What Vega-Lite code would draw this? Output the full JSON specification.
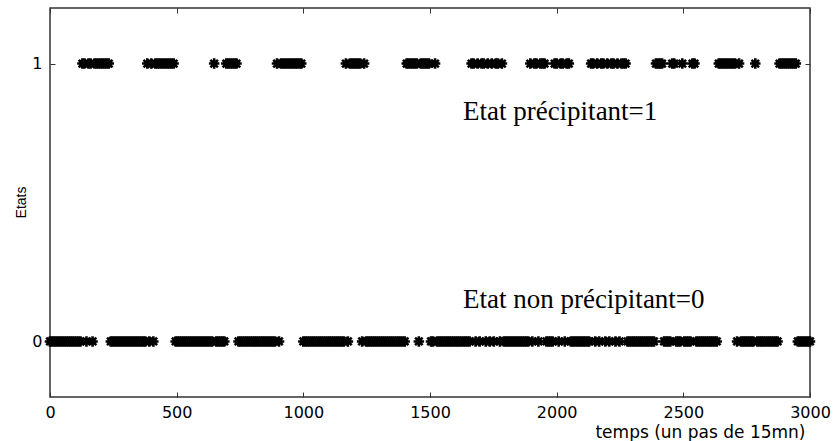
{
"$schema": "https://vega.github.io/schema/vega-lite/v6.json",
"width": 760, "height": 389,
"autosize": "none",
"padding": {"left": 50, "top": 8, "right": 24, "bottom": 44},
"background": "white",
"config": {"view": {"stroke": "#333", "strokeWidth": 1.5}},
"datasets": {
"states": [
{"t":0,"s":0},{"t":8,"s":0},{"t":16,"s":0},{"t":24,"s":0},{"t":32,"s":0},{"t":40,"s":0},{"t":48,"s":0},{"t":56,"s":0},{"t":64,"s":0},{"t":72,"s":0},{"t":80,"s":0},{"t":88,"s":0},{"t":96,"s":0},{"t":104,"s":0},{"t":112,"s":0},{"t":120,"s":0},
{"t":128,"s":1},{"t":136,"s":1},{"t":144,"s":0},{"t":152,"s":1},{"t":160,"s":1},{"t":168,"s":0},{"t":176,"s":1},{"t":184,"s":1},{"t":192,"s":1},{"t":200,"s":1},{"t":208,"s":1},{"t":216,"s":1},{"t":224,"s":1},{"t":232,"s":1},
{"t":240,"s":0},{"t":248,"s":0},{"t":256,"s":0},{"t":264,"s":0},{"t":272,"s":0},{"t":280,"s":0},{"t":288,"s":0},{"t":296,"s":0},{"t":304,"s":0},{"t":312,"s":0},{"t":320,"s":0},{"t":328,"s":0},{"t":336,"s":0},{"t":344,"s":0},{"t":352,"s":0},{"t":360,"s":0},{"t":368,"s":0},{"t":376,"s":0},
{"t":384,"s":1},{"t":392,"s":0},{"t":400,"s":1},{"t":408,"s":0},{"t":416,"s":1},{"t":424,"s":1},{"t":432,"s":1},{"t":440,"s":1},{"t":448,"s":1},{"t":456,"s":1},{"t":464,"s":1},{"t":472,"s":1},{"t":480,"s":1},{"t":488,"s":1},
{"t":496,"s":0},{"t":504,"s":0},{"t":512,"s":0},{"t":520,"s":0},{"t":528,"s":0},{"t":536,"s":0},{"t":544,"s":0},{"t":552,"s":0},{"t":560,"s":0},{"t":568,"s":0},{"t":576,"s":0},{"t":584,"s":0},{"t":592,"s":0},{"t":600,"s":0},{"t":608,"s":0},{"t":616,"s":0},{"t":624,"s":0},{"t":632,"s":0},{"t":640,"s":0},
{"t":648,"s":1},
{"t":656,"s":0},{"t":664,"s":0},{"t":672,"s":0},{"t":680,"s":0},{"t":688,"s":0},
{"t":696,"s":1},{"t":704,"s":1},{"t":712,"s":1},{"t":720,"s":1},{"t":728,"s":1},{"t":736,"s":1},
{"t":744,"s":0},{"t":752,"s":0},{"t":760,"s":0},{"t":768,"s":0},{"t":776,"s":0},{"t":784,"s":0},{"t":792,"s":0},{"t":800,"s":0},{"t":808,"s":0},{"t":816,"s":0},{"t":824,"s":0},{"t":832,"s":0},{"t":840,"s":0},{"t":848,"s":0},{"t":856,"s":0},{"t":864,"s":0},{"t":872,"s":0},{"t":880,"s":0},{"t":888,"s":0},
{"t":896,"s":1},{"t":904,"s":0},{"t":912,"s":1},{"t":920,"s":1},{"t":928,"s":1},{"t":936,"s":1},{"t":944,"s":1},{"t":952,"s":1},{"t":960,"s":1},{"t":968,"s":1},{"t":976,"s":1},{"t":984,"s":1},{"t":992,"s":1},
{"t":1000,"s":0},{"t":1008,"s":0},{"t":1016,"s":0},{"t":1024,"s":0},{"t":1032,"s":0},{"t":1040,"s":0},{"t":1048,"s":0},{"t":1056,"s":0},{"t":1064,"s":0},{"t":1072,"s":0},{"t":1080,"s":0},{"t":1088,"s":0},{"t":1096,"s":0},{"t":1104,"s":0},{"t":1112,"s":0},{"t":1120,"s":0},{"t":1128,"s":0},{"t":1136,"s":0},{"t":1144,"s":0},{"t":1152,"s":0},{"t":1160,"s":0},
{"t":1168,"s":1},{"t":1176,"s":0},{"t":1184,"s":1},{"t":1192,"s":1},{"t":1200,"s":1},{"t":1208,"s":1},{"t":1216,"s":1},{"t":1224,"s":1},{"t":1232,"s":0},{"t":1240,"s":1},
{"t":1248,"s":0},{"t":1256,"s":0},{"t":1264,"s":0},{"t":1272,"s":0},{"t":1280,"s":0},{"t":1288,"s":0},{"t":1296,"s":0},{"t":1304,"s":0},{"t":1312,"s":0},{"t":1320,"s":0},{"t":1328,"s":0},{"t":1336,"s":0},{"t":1344,"s":0},{"t":1352,"s":0},{"t":1360,"s":0},{"t":1368,"s":0},{"t":1376,"s":0},{"t":1384,"s":0},{"t":1392,"s":0},{"t":1400,"s":0},
{"t":1408,"s":1},{"t":1416,"s":1},{"t":1424,"s":1},{"t":1432,"s":1},{"t":1440,"s":1},{"t":1448,"s":1},{"t":1456,"s":0},{"t":1464,"s":1},{"t":1472,"s":1},{"t":1480,"s":1},{"t":1488,"s":1},{"t":1496,"s":1},{"t":1504,"s":0},{"t":1512,"s":0},{"t":1520,"s":1},
{"t":1528,"s":0},{"t":1536,"s":0},{"t":1544,"s":0},{"t":1552,"s":0},{"t":1560,"s":0},{"t":1568,"s":0},{"t":1576,"s":0},{"t":1584,"s":0},{"t":1592,"s":0},{"t":1600,"s":0},{"t":1608,"s":0},{"t":1616,"s":0},{"t":1624,"s":0},{"t":1632,"s":0},{"t":1640,"s":0},{"t":1648,"s":0},{"t":1656,"s":0},
{"t":1664,"s":1},{"t":1672,"s":1},{"t":1680,"s":0},{"t":1688,"s":1},{"t":1696,"s":0},{"t":1704,"s":1},{"t":1712,"s":1},{"t":1720,"s":0},{"t":1728,"s":1},{"t":1736,"s":0},{"t":1744,"s":1},{"t":1752,"s":0},{"t":1760,"s":1},{"t":1768,"s":1},{"t":1776,"s":0},{"t":1784,"s":1},
{"t":1792,"s":0},{"t":1800,"s":0},{"t":1808,"s":0},{"t":1816,"s":0},{"t":1824,"s":0},{"t":1832,"s":0},{"t":1840,"s":0},{"t":1848,"s":0},{"t":1856,"s":0},{"t":1864,"s":0},{"t":1872,"s":0},{"t":1880,"s":0},{"t":1888,"s":0},
{"t":1896,"s":1},{"t":1904,"s":0},{"t":1912,"s":1},{"t":1920,"s":1},{"t":1928,"s":0},{"t":1936,"s":1},{"t":1944,"s":1},{"t":1952,"s":1},{"t":1960,"s":0},{"t":1968,"s":0},{"t":1976,"s":0},{"t":1984,"s":0},{"t":1992,"s":1},{"t":2000,"s":1},{"t":2008,"s":0},{"t":2016,"s":1},{"t":2024,"s":1},{"t":2032,"s":0},{"t":2040,"s":1},{"t":2048,"s":1},
{"t":2056,"s":0},{"t":2064,"s":0},{"t":2072,"s":0},{"t":2080,"s":0},{"t":2088,"s":0},{"t":2096,"s":0},{"t":2104,"s":0},{"t":2112,"s":0},{"t":2120,"s":0},{"t":2128,"s":0},
{"t":2136,"s":1},{"t":2144,"s":1},{"t":2152,"s":0},{"t":2160,"s":1},{"t":2168,"s":0},{"t":2176,"s":1},{"t":2184,"s":1},{"t":2192,"s":0},{"t":2200,"s":1},{"t":2208,"s":0},{"t":2216,"s":1},{"t":2224,"s":1},{"t":2232,"s":0},{"t":2240,"s":1},{"t":2248,"s":0},{"t":2256,"s":1},{"t":2264,"s":1},{"t":2272,"s":1},
{"t":2280,"s":0},{"t":2288,"s":0},{"t":2296,"s":0},{"t":2304,"s":0},{"t":2312,"s":0},{"t":2320,"s":0},{"t":2328,"s":0},{"t":2336,"s":0},{"t":2344,"s":0},{"t":2352,"s":0},{"t":2360,"s":0},{"t":2368,"s":0},{"t":2376,"s":0},{"t":2384,"s":0},
{"t":2392,"s":1},{"t":2400,"s":1},{"t":2408,"s":1},{"t":2416,"s":1},{"t":2424,"s":0},{"t":2432,"s":0},{"t":2440,"s":0},{"t":2448,"s":0},{"t":2456,"s":1},{"t":2464,"s":1},{"t":2472,"s":0},{"t":2480,"s":0},{"t":2488,"s":0},{"t":2496,"s":1},{"t":2504,"s":0},{"t":2512,"s":0},{"t":2520,"s":0},{"t":2528,"s":0},{"t":2536,"s":1},{"t":2544,"s":1},
{"t":2552,"s":0},{"t":2560,"s":0},{"t":2568,"s":0},{"t":2576,"s":0},{"t":2584,"s":0},{"t":2592,"s":0},{"t":2600,"s":0},{"t":2608,"s":0},{"t":2616,"s":0},{"t":2624,"s":0},{"t":2632,"s":0},
{"t":2640,"s":1},{"t":2648,"s":1},{"t":2656,"s":1},{"t":2664,"s":1},{"t":2672,"s":1},{"t":2680,"s":1},{"t":2688,"s":1},{"t":2696,"s":1},{"t":2704,"s":1},{"t":2712,"s":0},{"t":2720,"s":1},
{"t":2728,"s":0},{"t":2736,"s":0},{"t":2744,"s":0},{"t":2752,"s":0},{"t":2760,"s":0},{"t":2768,"s":0},{"t":2776,"s":0},{"t":2784,"s":1},
{"t":2792,"s":0},{"t":2800,"s":0},{"t":2808,"s":0},{"t":2816,"s":0},{"t":2824,"s":0},{"t":2832,"s":0},{"t":2840,"s":0},{"t":2848,"s":0},{"t":2856,"s":0},{"t":2864,"s":0},{"t":2872,"s":0},
{"t":2880,"s":1},{"t":2888,"s":1},{"t":2896,"s":1},{"t":2904,"s":1},{"t":2912,"s":1},{"t":2920,"s":1},{"t":2928,"s":1},{"t":2936,"s":1},{"t":2944,"s":1},
{"t":2952,"s":0},{"t":2960,"s":0},{"t":2968,"s":0},{"t":2976,"s":0},{"t":2984,"s":0},{"t":2992,"s":0},{"t":3000,"s":0}
],
"notes": [
{"t":1630,"y":0.796,"label":"Etat précipitant=1"},
{"t":1630,"y":0.122,"label":"Etat non précipitant=0"}
]
},
"layer": [
{
"data": {"name": "states"},
"mark": {"type": "point", "shape": "M-1,0L1,0M0,-1L0,1M-0.72,-0.72L0.72,0.72M-0.72,0.72L0.72,-0.72", "filled": false, "stroke": "black", "strokeWidth": 2.6, "size": 110, "opacity": 1, "clip": false},
"encoding": {
"x": {"field": "t", "type": "quantitative", "scale": {"domain": [0, 3000], "nice": false, "zero": false},
"axis": {"orient": "bottom", "values": [0,500,1000,1500,2000,2500,3000], "format": "d", "domain": false, "grid": false, "tickSize": -5, "tickColor": "#333", "labelFont": "DejaVu Sans", "labelFontSize": 16, "labelColor": "black", "labelPadding": 12, "labelFlush": false,
"title": "temps (un pas de 15mn)", "titleFont": "DejaVu Sans", "titleFontSize": 17, "titleFontWeight": "normal", "titleColor": "black", "titleAnchor": "end", "titleAlign": "right", "titleX": 755, "titleY": 40, "titleBaseline": "alphabetic"}},
"y": {"field": "s", "type": "quantitative", "scale": {"domain": [-0.2, 1.2], "nice": false, "zero": false},
"axis": {"orient": "left", "values": [0, 1], "format": "d", "domain": false, "grid": false, "tickSize": -5, "tickColor": "#333", "labelFont": "DejaVu Sans", "labelFontSize": 16, "labelColor": "black", "labelPadding": 13,
"title": "Etats", "titleFont": "Liberation Sans", "titleFontSize": 14, "titleFontWeight": "normal", "titleColor": "black", "titleAngle": -90, "titleX": -29, "titleY": 194, "titleAlign": "center", "titleBaseline": "middle"}}
}
},
{
"data": {"name": "notes"},
"mark": {"type": "text", "font": "Liberation Serif", "fontSize": 27, "align": "left", "baseline": "alphabetic", "color": "black"},
"encoding": {
"x": {"field": "t", "type": "quantitative", "axis": {"orient": "top", "values": [0,500,1000,1500,2000,2500,3000], "labels": false, "domain": false, "grid": false, "tickSize": -5, "tickColor": "#333", "title": null}},
"y": {"field": "y", "type": "quantitative", "axis": {"orient": "right", "values": [0, 1], "labels": false, "domain": false, "grid": false, "tickSize": -5, "tickColor": "#333", "title": null}},
"text": {"field": "label"}
}
}
]
}
